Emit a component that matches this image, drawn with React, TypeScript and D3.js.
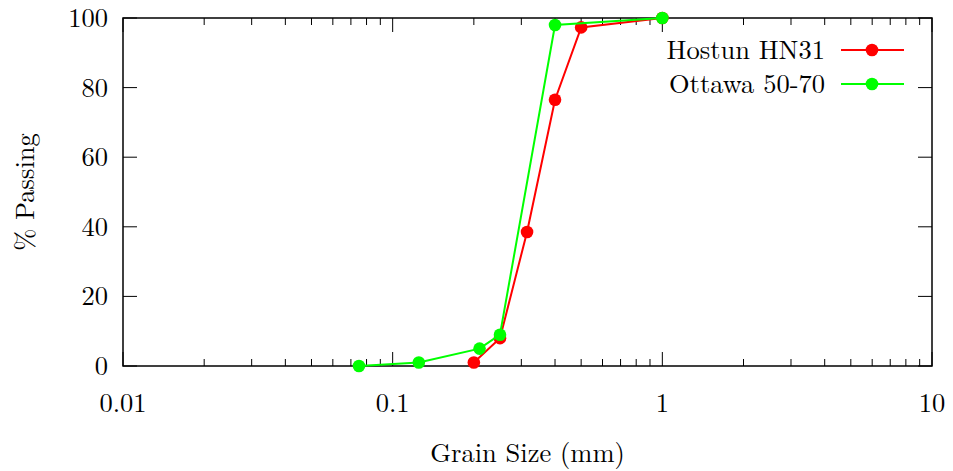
import React from "react";
import * as d3 from "d3";

const hostunSize = [0.2, 0.25, 0.315, 0.4, 0.5, 1.0];
const hostunPass = [1, 8, 38.5, 76.5, 97.3, 100];
const ottawaSize = [0.075, 0.125, 0.21, 0.25, 0.4, 1.0];
const ottawaPass = [0, 1, 5, 9, 98, 100];
const seriesNames = ["Hostun HN31", "Ottawa 50-70"];
const seriesColors = ["#ff0000", "#00ff00"];
const xTicks = [0.01, 0.1, 1, 10];
const yTicks = [0, 20, 40, 60, 80, 100];

const W = 953, H = 471;
const L = 123, R = 932, T = 18, B = 366;
const FONT = "Latin Modern Roman, Liberation Serif, serif";

export default function App() {
  const x = d3.scaleLog().domain([0.01, 10]).range([L, R]);
  const y = d3.scaleLinear().domain([0, 100]).range([B, T]);
  const line = d3.line<[number, number]>().x(d => x(d[0])).y(d => y(d[1]));
  const series = [
    hostunSize.map((s, i) => [s, hostunPass[i]] as [number, number]),
    ottawaSize.map((s, i) => [s, ottawaPass[i]] as [number, number]),
  ];
  const minor: number[] = [];
  for (let e = -2; e < 1; e++) for (let k = 2; k <= 9; k++) minor.push(k * Math.pow(10, e));
  const major = 14, minorLen = 7;
  const ts = { fontFamily: FONT, fontSize: 26.5 };
  return (
    <svg width={W} height={H} style={{ position: "absolute", left: 0, top: 0 }}>
      <rect x={0} y={0} width={W} height={H} fill="white" />
      {xTicks.map(t => (
        <g key={"xt" + t}>
          <line x1={x(t)} x2={x(t)} y1={B} y2={B - major} stroke="#000" strokeWidth={1} />
          <line x1={x(t)} x2={x(t)} y1={T} y2={T + major} stroke="#000" strokeWidth={1} />
          <text x={x(t)} y={412} textAnchor="middle" style={ts} fill="#000">{String(t)}</text>
        </g>
      ))}
      {minor.map(t => (
        <g key={"xm" + t}>
          <line x1={x(t)} x2={x(t)} y1={B} y2={B - minorLen} stroke="#000" strokeWidth={1} />
          <line x1={x(t)} x2={x(t)} y1={T} y2={T + minorLen} stroke="#000" strokeWidth={1} />
        </g>
      ))}
      {yTicks.map(t => (
        <g key={"yt" + t}>
          <line x1={L} x2={L + major} y1={y(t)} y2={y(t)} stroke="#000" strokeWidth={1} />
          <line x1={R} x2={R - major} y1={y(t)} y2={y(t)} stroke="#000" strokeWidth={1} />
          <text x={108} y={y(t) + 9} textAnchor="end" style={ts} fill="#000">{String(t)}</text>
        </g>
      ))}
      <rect x={L} y={T} width={R - L} height={B - T} fill="none" stroke="#000" strokeWidth={1.5} />
      {series.map((s, i) => (
        <g key={"s" + i}>
          <path d={line(s) || ""} fill="none" stroke={seriesColors[i]} strokeWidth={2} />
          {s.map((d, j) => (
            <circle key={j} cx={x(d[0])} cy={y(d[1])} r={6.3} fill={seriesColors[i]} />
          ))}
        </g>
      ))}
      {seriesNames.map((n, i) => (
        <g key={"lg" + i}>
          <text x={825} y={59 + i * 34} textAnchor="end" style={ts} fill="#000">{n}</text>
          <line x1={841} x2={904} y1={50 + i * 34} y2={50 + i * 34} stroke={seriesColors[i]} strokeWidth={2} />
          <circle cx={872} cy={50 + i * 34} r={6.3} fill={seriesColors[i]} />
        </g>
      ))}
      <text x={(L + R) / 2} y={462} textAnchor="middle" style={ts} fill="#000">Grain Size (mm)</text>
      <text transform={`translate(34, ${(T + B) / 2}) rotate(-90)`} textAnchor="middle" style={ts} fill="#000">% Passing</text>
    </svg>
  );
}
